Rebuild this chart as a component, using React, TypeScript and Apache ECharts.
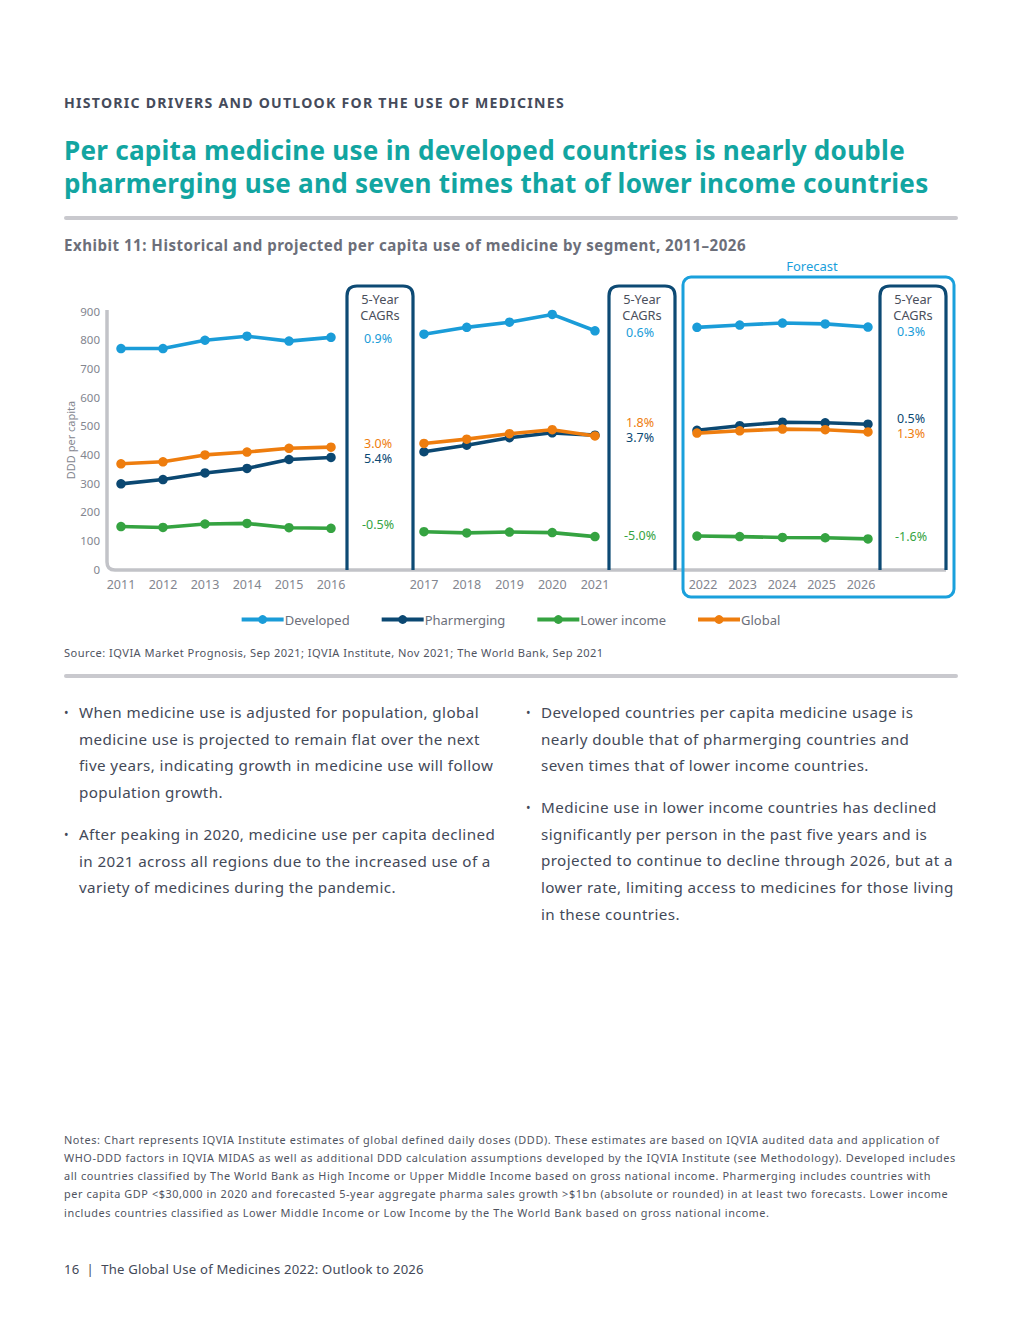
import React, { useEffect, useRef } from "react";
import * as echarts from "echarts";

// ---------- data ----------
const years1 = ["2011", "2012", "2013", "2014", "2015", "2016"];
const years2 = ["2017", "2018", "2019", "2020", "2021"];
const years3 = ["2022", "2023", "2024", "2025", "2026"];

const developed1 = [769, 769, 798, 812, 795, 808];
const pharmerging1 = [297, 312, 335, 351, 382, 389];
const lowerIncome1 = [148, 145, 157, 159, 144, 142];
const global1 = [367, 374, 398, 408, 421, 425];

const developed2 = [819, 843, 861, 888, 831];
const pharmerging2 = [409, 432, 458, 475, 467];
const lowerIncome2 = [130, 126, 129, 127, 113];
const global2 = [438, 453, 472, 486, 464];

const developed3 = [843, 851, 858, 855, 844];
const pharmerging3 = [484, 500, 512, 510, 505];
const lowerIncome3 = [115, 113, 110, 109, 105];
const global3 = [474, 482, 488, 486, 478];

const cagrDeveloped = ["0.9%", "0.6%", "0.3%"];
const cagrPharmerging = ["5.4%", "3.7%", "0.5%"];
const cagrLowerIncome = ["-0.5%", "-5.0%", "-1.6%"];
const cagrGlobal = ["3.0%", "1.8%", "1.3%"];

const seriesNames = ["Developed", "Pharmerging", "Lower income", "Global"];
const yTicks = { min: 0, max: 900, interval: 100 };

const leftBullets = [
  [
    "When medicine use is adjusted for population, global",
    "medicine use is projected to remain flat over the next",
    "five years, indicating growth in medicine use will follow",
    "population growth.",
  ],
  [
    "After peaking in 2020, medicine use per capita declined",
    "in 2021 across all regions due to the increased use of a",
    "variety of medicines during the pandemic.",
  ],
];
const rightBullets = [
  [
    "Developed countries per capita medicine usage is",
    "nearly double that of pharmerging countries and",
    "seven times that of lower income countries.",
  ],
  [
    "Medicine use in lower income countries has declined",
    "significantly per person in the past five years and is",
    "projected to continue to decline through 2026, but at a",
    "lower rate, limiting access to medicines for those living",
    "in these countries.",
  ],
];
const notesLines = [
  "Notes: Chart represents IQVIA Institute estimates of global defined daily doses (DDD). These estimates are based on IQVIA audited data and application of",
  "WHO-DDD factors in IQVIA MIDAS as well as additional DDD calculation assumptions developed by the IQVIA Institute (see Methodology). Developed includes",
  "all countries classified by The World Bank as High Income or Upper Middle Income based on gross national income. Pharmerging includes countries with",
  "per capita GDP <$30,000 in 2020 and forecasted 5-year aggregate pharma sales growth >$1bn (absolute or rounded) in at least two forecasts. Lower income",
  "includes countries classified as Lower Middle Income or Low Income by the The World Bank based on gross national income.",
];

// ---------- styles ----------
const C_DEV = "#1a9cd8";
const C_PHA = "#0b4872";
const C_LOW = "#35a341";
const C_GLO = "#ee7d0e";
const C_BOXNAVY = "#0d4a74";
const C_FORECAST = "#1aa0dc";
const C_AXIS = "#c2c3c8";
const C_TICK = "#83868f";
const C_BODY = "#434958";
const FONT = "'Noto Sans', 'Open Sans', sans-serif";

const CSS = `
text[style*="14.1px"]{letter-spacing:1.25px}
text[style*="26.1px"]{letter-spacing:0.25px}
text[style*="15.1px"]{letter-spacing:0.49px}
text[style*="15.2px"]{letter-spacing:0.4px}
text[style*="10.9px"]{letter-spacing:0.58px}
text[style*="11.1px"]{letter-spacing:0.45px}
text[style*="13.1px"]{letter-spacing:0.2px}
`;

echarts.graphic.registerShape(
  "cagrBox",
  echarts.graphic.extendPath("M0 284 L0 10 Q0 0 10 0 L56 0 Q66 0 66 10 L66 284", {})
);
echarts.graphic.registerShape(
  "axisL",
  echarts.graphic.extendPath("M107 310 L107 562 Q107 570 115 570 L946 570", {})
);

function txt(text: string, x: number, y: number, font: string, fill: string, align = "left") {
  return {
    type: "text",
    x,
    y,
    silent: true,
    style: {
      text,
      font,
      fill,
      align,
      verticalAlign: "middle",
      textAlign: align,
      textVerticalAlign: "middle",
    },
  };
}

export default function App() {
  const ref = useRef<HTMLDivElement>(null);

  useEffect(() => {
    if (!ref.current) return;
    const chart = echarts.init(ref.current, undefined, { renderer: "svg" });

    const grids = [
      { left: 100, top: 311, width: 252, height: 258 },
      { left: 402.6, top: 311, width: 213.75, height: 258 },
      { left: 675.6, top: 311, width: 213.75, height: 258 },
      // label-only grid for forecast years (labels sit slightly tighter than the points)
      { left: 683.25, top: 311, width: 197.5, height: 258 },
    ];
    const yearSets = [years1, years2, years3, years3];
    const dataSets = [
      [developed1, pharmerging1, lowerIncome1, global1],
      [developed2, pharmerging2, lowerIncome2, global2],
      [developed3, pharmerging3, lowerIncome3, global3],
    ];
    const colors = [C_DEV, C_PHA, C_LOW, C_GLO];

    const series: any[] = [];
    for (let g = 0; g < 3; g++) {
      for (let s = 0; s < 4; s++) {
        series.push({
          type: "line",
          name: seriesNames[s],
          xAxisIndex: g,
          yAxisIndex: g,
          data: dataSets[g][s],
          symbol: "circle",
          symbolSize: 9.5,
          color: colors[s],
          lineStyle: { width: 3.6, color: colors[s] },
          itemStyle: { color: colors[s] },
          z: 3 + s,
        });
      }
    }

    const graphics: any[] = [];
    graphics.push(
      txt("HISTORIC DRIVERS AND OUTLOOK FOR THE USE OF MEDICINES", 64, 102, `bold 14.1px ${FONT}`, "#454b5b")
    );
    graphics.push(
      txt("Per capita medicine use in developed countries is nearly double", 64, 150, `bold 26.1px ${FONT}`, "#12a5a1")
    );
    graphics.push(
      txt("pharmerging use and seven times that of lower income countries", 64, 183, `bold 26.1px ${FONT}`, "#12a5a1")
    );
    graphics.push({
      type: "line",
      silent: true,
      shape: { x1: 66, y1: 218, x2: 956, y2: 218 },
      style: { stroke: "#c9c9ce", lineWidth: 4, lineCap: "round" },
    });
    graphics.push(
      txt(
        "Exhibit 11: Historical and projected per capita use of medicine by segment, 2011–2026",
        64,
        245,
        `bold 15.1px ${FONT}`,
        "#6c6f7a"
      )
    );

    graphics.push({
      type: "axisL",
      silent: true,
      z: 1,
      style: { stroke: C_AXIS, fill: "none", lineWidth: 3.5 },
    });

    graphics.push({
      type: "rect",
      silent: true,
      z: 1,
      shape: { x: 683, y: 277, width: 271, height: 320, r: 8 },
      style: { stroke: C_FORECAST, fill: "none", lineWidth: 3 },
    });
    graphics.push(txt("Forecast", 812, 266, `13px ${FONT}`, C_FORECAST, "center"));

    const boxX = [347, 609, 880];
    const cagrY = [
      { dev: 338, glo: 443.5, pha: 458, low: 524 },
      { dev: 332, glo: 422.5, pha: 437, low: 535 },
      { dev: 331, pha: 418.5, glo: 433, low: 536 },
    ];
    for (let i = 0; i < 3; i++) {
      const bx = boxX[i];
      const cx = bx + 31;
      graphics.push({
        type: "cagrBox",
        silent: true,
        z: 2,
        x: bx,
        y: 286,
        style: { stroke: C_BOXNAVY, fill: "none", lineWidth: 3.2 },
      });
      graphics.push(txt("5-Year", cx + 2, 299, `12.8px ${FONT}`, "#4b4f5c", "center"));
      graphics.push(txt("CAGRs", cx + 2, 315, `12.8px ${FONT}`, "#4b4f5c", "center"));
      graphics.push(txt(cagrDeveloped[i], cx, cagrY[i].dev, `12.5px ${FONT}`, C_DEV, "center"));
      graphics.push(txt(cagrGlobal[i], cx, cagrY[i].glo, `12.5px ${FONT}`, C_GLO, "center"));
      graphics.push(txt(cagrPharmerging[i], cx, cagrY[i].pha, `12.5px ${FONT}`, C_PHA, "center"));
      graphics.push(txt(cagrLowerIncome[i], cx, cagrY[i].low, `12.5px ${FONT}`, C_LOW, "center"));
    }

    graphics.push(
      txt(
        "Source: IQVIA Market Prognosis, Sep 2021; IQVIA Institute, Nov 2021; The World Bank, Sep 2021",
        64,
        652,
        `11.1px ${FONT}`,
        "#50545f"
      )
    );
    graphics.push({
      type: "line",
      silent: true,
      shape: { x1: 66, y1: 676, x2: 956, y2: 676 },
      style: { stroke: "#c9c9ce", lineWidth: 4, lineCap: "round" },
    });

    const bulletFont = `15.2px ${FONT}`;
    const lh = 26.7;
    const drawBullets = (groups: string[][], bx: number, tx: number, ys: number[]) => {
      groups.forEach((lines, gi) => {
        graphics.push(txt("•", bx, ys[gi], `12px ${FONT}`, C_BODY));
        lines.forEach((l, li) => {
          graphics.push(txt(l, tx, ys[gi] + li * lh, bulletFont, C_BODY));
        });
      });
    };
    drawBullets(leftBullets, 64, 79, [712, 834]);
    drawBullets(rightBullets, 526, 541, [712, 807]);

    notesLines.forEach((l, i) => {
      graphics.push(txt(l, 64, 1139 + i * 18.3, `10.9px ${FONT}`, "#50545f"));
    });
    graphics.push(
      txt("16  |  The Global Use of Medicines 2022: Outlook to 2026", 64, 1269, `13.1px ${FONT}`, C_BODY)
    );

    chart.setOption({
      animation: false,
      backgroundColor: "#ffffff",
      textStyle: { fontFamily: FONT },
      legend: {
        data: seriesNames,
        top: 608,
        left: "center",
        itemWidth: 42,
        itemHeight: 11,
        itemGap: 30,
        lineStyle: { width: 4 },
        textStyle: { color: "#6c6f7a", fontSize: 13, fontFamily: FONT, padding: [0, 0, 0, -4] },
        selectedMode: false,
      },
      grid: grids.map((g) => ({ ...g, containLabel: false })),
      xAxis: yearSets.map((ys, i) => ({
        type: "category",
        gridIndex: i,
        data: ys,
        boundaryGap: true,
        axisLine: { show: false },
        axisTick: { show: false },
        axisLabel: { show: i !== 2, color: C_TICK, fontSize: 12.5, margin: 9, fontFamily: FONT },
        splitLine: { show: false },
      })),
      yAxis: [0, 1, 2, 3].map((i) => ({
        type: "value",
        gridIndex: i,
        min: yTicks.min,
        max: yTicks.max,
        interval: yTicks.interval,
        axisLine: { show: false },
        axisTick: { show: false },
        splitLine: { show: false },
        axisLabel: { show: i === 0, color: C_TICK, fontSize: 11.5, margin: 0, fontFamily: FONT },
        name: i === 0 ? "DDD per capita" : "",
        nameLocation: "middle",
        nameRotate: 90,
        nameGap: 23,
        nameTextStyle: { color: C_TICK, fontSize: 11, fontFamily: FONT },
      })),
      graphic: { elements: graphics },
      series,
    });

    return () => chart.dispose();
  }, []);

  return (
    <>
      <style>{CSS}</style>
      <div
        ref={ref}
        style={{ position: "absolute", left: 0, top: 0, width: 1020, height: 1320, background: "#fff" }}
      />
    </>
  );
}
